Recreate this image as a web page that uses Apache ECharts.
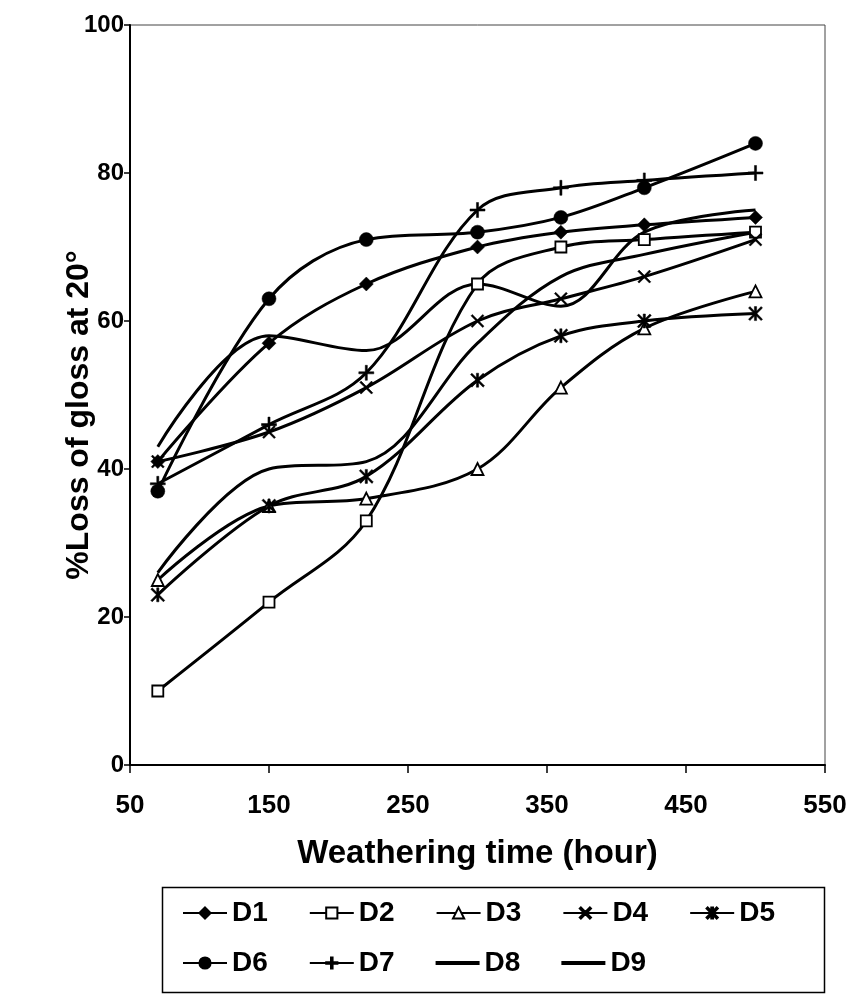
<!DOCTYPE html>
<html><head><meta charset="utf-8">
<script src="https://cdn.jsdelivr.net/npm/echarts@6/dist/echarts.min.js"></script>
<style>html,body{margin:0;padding:0;background:#fff}#c{width:852px;height:1002px}</style>
</head><body><div id="c"></div>
<script>
// Data
const hours = [70, 150, 220, 300, 360, 420, 500];
const names = ['D1','D2','D3','D4','D5','D6','D7','D8','D9'];
const D1 = [41, 57, 65, 70, 72, 73, 74];
const D2 = [10, 22, 33, 65, 70, 71, 72];
const D3 = [25, 35, 36, 40, 51, 59, 64];
const D4 = [41, 45, 51, 60, 63, 66, 71];
const D5 = [23, 35, 39, 52, 58, 60, 61];
const D6 = [37, 63, 71, 72, 74, 78, 84];
const D7 = [38, 46, 53, 75, 78, 79, 80];
const D8 = [43, 58, 56, 65, 62, 72, 75];
const D9 = [26, 40, 41, 57, 66, 69, 72];
const xTicks = {min: 50, max: 550, interval: 100};
const yTicks = {min: 0, max: 100, interval: 20};

const FONT = 'Liberation Sans, Arial, sans-serif';
const pathX = 'path://M1,0L5,4L9,0L10,1L6,5L10,9L9,10L5,6L1,10L0,9L4,5L0,1Z';
const pathPlus = 'path://M4.3,0H5.7V4.3H10V5.7H5.7V10H4.3V5.7H0V4.3H4.3Z';
const pathAst = 'path://M1,0L5,4L9,0L10,1L6,5L10,9L9,10L5,6L1,10L0,9L4,5L0,1Z M4.2,0H5.8V10H4.2Z';
const plainLineIcon = 'path://M0,0M42,14M0,6H42V8H0Z';

const styles = {
  D1: {symbol: 'diamond', size: 14, fill: '#000'},
  D2: {symbol: 'rect', size: 11, fill: '#fff'},
  D3: {symbol: 'triangle', size: 12, fill: '#fff'},
  D4: {symbol: pathX, size: 13, fill: '#000'},
  D5: {symbol: pathAst, size: 14, fill: '#000'},
  D6: {symbol: 'circle', size: 14, fill: '#000'},
  D7: {symbol: pathPlus, size: 15, fill: '#000'},
  D8: {symbol: 'none', size: 0, fill: '#000'},
  D9: {symbol: 'none', size: 0, fill: '#000'}
};
const values = {D1, D2, D3, D4, D5, D6, D7, D8, D9};

const series = names.map(n => ({
  name: n,
  type: 'line',
  smooth: 0.35,
  data: hours.map((h, i) => [h, values[n][i]]),
  symbol: styles[n].symbol,
  symbolSize: styles[n].size,
  showSymbol: styles[n].symbol !== 'none',
  lineStyle: {color: '#000', width: 3},
  itemStyle: {color: styles[n].fill, borderColor: '#000', borderWidth: styles[n].fill === '#fff' ? 1.8 : 0.5},
  emphasis: {disabled: true},
  z: 2
}));

const legendText = {fontFamily: FONT, fontWeight: 'bold', fontSize: 28, color: '#000'};
const legendItems = names.map(n => styles[n].symbol === 'none' ? {name: n, icon: plainLineIcon} : {name: n});
const chart = echarts.init(document.getElementById('c'), null, {renderer: 'canvas'});
chart.setOption({
  animation: false,
  backgroundColor: '#fff',
  grid: {left: 130, right: 27, top: 25, bottom: 237, show: true, borderColor: '#444', borderWidth: 1},
  xAxis: {
    type: 'value', min: xTicks.min, max: xTicks.max, interval: xTicks.interval,
    name: 'Weathering time (hour)', nameLocation: 'middle', nameGap: 72, nameMoveOverlap: false,
    nameTextStyle: {fontFamily: FONT, fontWeight: 'bold', fontSize: 33, color: '#000'},
    axisLine: {lineStyle: {color: '#000', width: 2}},
    axisTick: {length: 8, lineStyle: {color: '#000', width: 1.5}},
    axisLabel: {fontFamily: FONT, fontWeight: 'bold', fontSize: 26, color: '#000', margin: 28},
    splitLine: {show: false}
  },
  yAxis: {
    type: 'value', min: yTicks.min, max: yTicks.max, interval: yTicks.interval,
    name: '%Loss of gloss at 20°', nameLocation: 'middle', nameGap: 35, nameMoveOverlap: false,
    nameTextStyle: {fontFamily: FONT, fontWeight: 'bold', fontSize: 32, color: '#000', padding: [0, 40, 0, 0]},
    axisLine: {lineStyle: {color: '#000', width: 2}},
    axisTick: {length: 6, lineStyle: {color: '#000', width: 1.5}},
    axisLabel: {fontFamily: FONT, fontWeight: 'bold', fontSize: 24, color: '#000', margin: 6},
    splitLine: {show: false}
  },
  legend: [
    {data: legendItems.slice(0, 5), left: 177, top: 894, itemWidth: 44, itemHeight: 14, itemGap: 41,
     textStyle: legendText, selectedMode: false},
    {data: legendItems.slice(5), left: 177, top: 944, itemWidth: 44, itemHeight: 14, itemGap: 41,
     textStyle: legendText, selectedMode: false}
  ],
  graphic: [{type: 'rect', left: 160, top: 885, shape: {width: 662, height: 105},
    style: {fill: 'none', stroke: '#000', lineWidth: 1.5}, silent: true}],
  series
});
</script></body></html>
